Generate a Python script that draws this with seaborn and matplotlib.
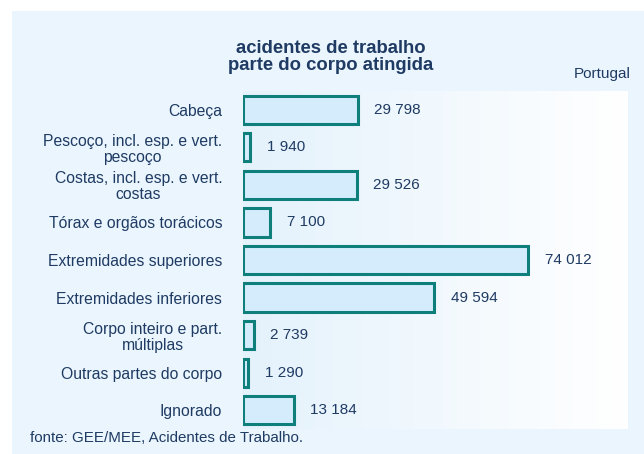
import matplotlib.pyplot as plt
import numpy as np
import pandas as pd
import seaborn as sns
from matplotlib.patches import Rectangle


CATEGORIES = [
    "Cabeça",
    "Pescoço, incl. esp. e vert.\npescoço",
    "Costas, incl. esp. e vert.\ncostas",
    "Tórax e orgãos torácicos",
    "Extremidades superiores",
    "Extremidades inferiores",
    "Corpo inteiro e part.\nmúltiplas",
    "Outras partes do corpo",
    "Ignorado",
]
ACCIDENTS = [29798, 1940, 29526, 7100, 74012, 49594, 2739, 1290, 13184]
TITLE_LINES = ["acidentes de trabalho", "parte do corpo atingida"]

TEXT_COLOR = "#1F3B63"
BAR_FILL = "#D4ECFB"
BAR_EDGE = "#0F7F7C"
PANEL_COLOR = "#EAF5FD"


def fmt_thousands(value):
    return f"{value:,}".replace(",", " ")


df = pd.DataFrame({"parte": CATEGORIES, "acidentes": ACCIDENTS})

sns.set_theme(style="white")
plt.rcParams["font.family"] = ["Liberation Sans", "DejaVu Sans"]

fig = plt.figure(figsize=(6.44, 4.54), dpi=100)
fig.patch.set_facecolor("white")
fig.patches.append(
    Rectangle((12 / 644, 0.0), 1 - 12 / 644, 1 - 11 / 454, transform=fig.transFigure,
              facecolor=PANEL_COLOR, edgecolor="none", zorder=-5)
)

ax = fig.add_axes([243 / 644, 1 - 429 / 454, 385 / 644, 338 / 454])
ax.set_facecolor("none")

# horizontal gradient from light blue to white behind the bars
gradient = np.linspace(0, 1, 256).reshape(1, -1)
ax.imshow(
    gradient, extent=[0, 1, 0, 1], transform=ax.transAxes, aspect="auto",
    cmap=sns.blend_palette(["#E4F2FC", "#FFFFFF"], as_cmap=True), zorder=0,
)

sns.barplot(
    data=df, x="acidentes", y="parte", orient="h", ax=ax,
    color=BAR_FILL, edgecolor=BAR_EDGE, linewidth=2.2, width=0.75, saturation=1,
    zorder=2,
)

ax.set_xlim(0, 100000)
ax.set_ylim(len(CATEGORIES) - 0.5, -0.5)

for i, value in enumerate(ACCIDENTS):
    ax.annotate(
        fmt_thousands(value), xy=(value, i), xytext=(12, 0), textcoords="offset points",
        va="center", ha="left", fontsize=11, color=TEXT_COLOR,
    )

ax.set_xlabel("")
ax.set_ylabel("")
ax.set_xticks([])
ax.tick_params(axis="y", length=0, pad=15, labelsize=11.3, labelcolor=TEXT_COLOR)
for label in ax.get_yticklabels():
    label.set_multialignment("center")
    label.set_linespacing(1.08)
for spine in ax.spines.values():
    spine.set_visible(False)

for line, baseline in zip(TITLE_LINES, [53, 70]):
    fig.text(331 / 644, 1 - baseline / 454, line, ha="center", va="baseline",
             fontsize=13.3, fontweight="bold", color=TEXT_COLOR)
fig.text(631 / 644, 1 - 74 / 454, "Portugal", ha="right", va="center",
         fontsize=11, color=TEXT_COLOR)
fig.text(30 / 644, 1 - 438 / 454, "fonte: GEE/MEE, Acidentes de Trabalho.",
         ha="left", va="center", fontsize=10.9, color=TEXT_COLOR)

fig.savefig("out.png", dpi=100, facecolor=fig.get_facecolor())
